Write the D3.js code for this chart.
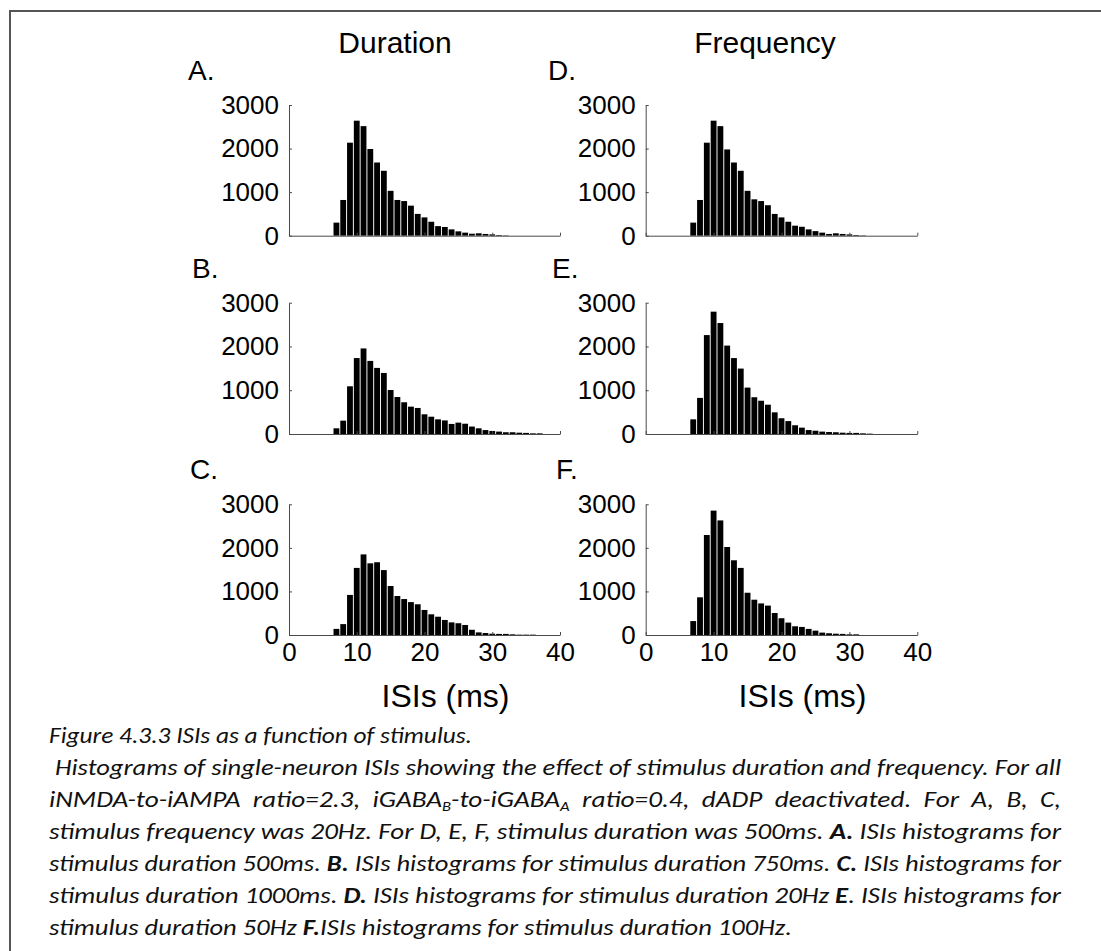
<!DOCTYPE html>
<html>
<head>
<meta charset="utf-8">
<script src="https://cdn.jsdelivr.net/npm/d3@7"></script>
<style>
  html, body { margin: 0; padding: 0; background: #fff; }
  svg { display: block; }
</style>
</head>
<body>
<svg id="fig" width="1101" height="951"></svg>
<script>
// ISI histogram bins (ms): one bar per 1 ms bin, centred on the integer value
const binStart = 7;

// Counts per bin for each panel (bins 7, 8, 9, ... ms)
const countsA = [300, 820, 2135, 2640, 2515, 1990, 1680, 1490, 1030, 820, 795, 690, 500, 420, 320, 220, 200, 145, 100, 70, 45, 55, 40, 30, 15, 8];
const countsB = [130, 305, 1090, 1735, 1955, 1670, 1510, 1395, 1005, 845, 725, 625, 595, 450, 395, 335, 310, 230, 260, 235, 170, 130, 90, 70, 55, 40, 40, 30, 25, 15, 15];
const countsC = [140, 250, 920, 1540, 1850, 1645, 1670, 1490, 1125, 895, 825, 755, 705, 575, 475, 420, 345, 290, 270, 230, 120, 60, 45, 30, 25, 25, 15, 8, 8, 8];
const countsD = [300, 820, 2135, 2640, 2515, 1980, 1680, 1490, 1030, 835, 795, 700, 500, 420, 320, 230, 205, 145, 105, 70, 40, 55, 40, 30, 15, 8];
const countsE = [335, 825, 2260, 2795, 2535, 2020, 1735, 1495, 1060, 840, 760, 670, 495, 360, 295, 200, 145, 90, 75, 55, 45, 40, 30, 25, 25, 15, 8];
const countsF = [320, 865, 2295, 2855, 2630, 2020, 1715, 1540, 970, 810, 725, 675, 505, 385, 285, 200, 185, 140, 100, 55, 40, 30, 25, 15, 15];

const panelLetters = ["A.", "B.", "C.", "D.", "E.", "F."];
const columnTitles = ["Duration", "Frequency"];
const yTicks = [0, 1000, 2000, 3000];
const xTicks = [0, 10, 20, 30, 40];
const xLabel = "ISIs (ms)";

const panelCounts = [countsA, countsB, countsC, countsD, countsE, countsF];

// Grid geometry
const colX = [[289, 560], [645.7, 917.3]];
const rowY = [[235.7, 105], [434, 302.7], [635, 504.3]];
const letterX = [[188, 192, 190], [548, 552, 556]];

const chartFont = "'Liberation Sans', Arial, Helvetica, sans-serif";
const ink = "#000";
const axisInk = "#4a4a4a";

const svg = d3.select("#fig");
svg.append("rect").attr("width", 1101).attr("height", 951).attr("fill", "#fff");

// Frame around the figure
svg.append("path")
  .attr("d", "M10,951 V11 H1101")
  .attr("fill", "none")
  .attr("stroke", "#555")
  .attr("stroke-width", 2);

// Column titles
columnTitles.forEach((t, c) => {
  svg.append("text")
    .attr("x", c === 0 ? 395 : 765)
    .attr("y", 53)
    .attr("text-anchor", "middle")
    .attr("font-family", chartFont)
    .attr("font-size", 30)
    .attr("fill", ink)
    .text(t);
});

panelCounts.forEach((counts, i) => {
  const col = Math.floor(i / 3);
  const row = i % 3;
  const [x0, x1] = colX[col];
  const [yb, yt] = rowY[row];

  const x = d3.scaleLinear().domain([0, 40]).range([x0, x1]);
  const y = d3.scaleLinear().domain([0, 3000]).range([yb, yt]);

  const g = svg.append("g");

  // Panel letter
  g.append("text")
    .attr("x", letterX[col][row])
    .attr("y", yb - 156)
    .attr("font-family", chartFont)
    .attr("font-size", 28)
    .attr("fill", ink)
    .text(panelLetters[i]);

  // Bars
  const barW = 0.86;
  g.selectAll("rect.bar")
    .data(counts)
    .join("rect")
    .attr("class", "bar")
    .attr("x", (d, k) => x(binStart + k - barW / 2))
    .attr("width", (d, k) => x(binStart + k + barW / 2) - x(binStart + k - barW / 2))
    .attr("y", d => y(d))
    .attr("height", d => y(0) - y(d))
    .attr("fill", ink);

  // Y axis
  const yAxis = d3.axisLeft(y)
    .tickValues(yTicks)
    .tickSizeInner(-3)
    .tickSizeOuter(0)
    .tickPadding(10)
    .tickFormat(d3.format("d"));
  const ya = g.append("g").attr("transform", `translate(${x0},0)`).call(yAxis);
  ya.attr("font-family", chartFont).attr("font-size", 26);
  ya.selectAll("path, line").attr("stroke", axisInk);
  ya.selectAll("text").attr("fill", ink);

  // X axis (labels only on the bottom row)
  const xAxis = d3.axisBottom(x)
    .tickValues(xTicks)
    .tickSizeInner(-3)
    .tickSizeOuter(0)
    .tickPadding(8)
    .tickFormat(row === 2 ? d3.format("d") : () => "");
  const xa = g.append("g").attr("transform", `translate(0,${yb})`).call(xAxis);
  xa.attr("font-family", chartFont).attr("font-size", 26);
  xa.selectAll("path, line").attr("stroke", axisInk);
  xa.selectAll("text").attr("fill", ink);

  if (row === 2) {
    g.append("text")
      .attr("x", (x0 + x1) / 2 + 21)
      .attr("y", 707)
      .attr("text-anchor", "middle")
      .attr("font-family", chartFont)
      .attr("font-size", 32)
      .attr("fill", ink)
      .text(xLabel);
  }
});

// Caption: each line is a list of [text, style] runs
const captionLines = [
  { x: 49, w: 423, runs: [["Figure 4.3.3 ISIs as a function of stimulus.", ""]] },
  { x: 55, w: 1006, runs: [["Histograms of single-neuron ISIs showing the effect of stimulus duration and frequency. For all", ""]] },
  { x: 49, w: 1012, runs: [["iNMDA-to-iAMPA  ratio=2.3,  iGABA", ""], ["B", "sub"], ["-to-iGABA", ""], ["A", "sub"], ["  ratio=0.4,  dADP  deactivated.  For  A,  B,  C,", ""]] },
  { x: 49, w: 1012, runs: [["stimulus frequency was 20Hz. For D, E, F, stimulus duration was 500ms. ", ""], ["A.", "b"], [" ISIs histograms for", ""]] },
  { x: 49, w: 1012, runs: [["stimulus duration 500ms. ", ""], ["B.", "b"], [" ISIs histograms for stimulus duration 750ms. ", ""], ["C.", "b"], [" ISIs histograms for", ""]] },
  { x: 49, w: 1012, runs: [["stimulus duration 1000ms. ", ""], ["D.", "b"], [" ISIs histograms for stimulus duration 20Hz ", ""], ["E", "b"], [". ISIs histograms for", ""]] },
  { x: 49, w: 743, runs: [["stimulus duration 50Hz ", ""], ["F.", "b"], ["ISIs histograms for stimulus duration 100Hz.", ""]] }
];

const cap = svg.append("g")
  .attr("font-family", "Carlito, Calibri, 'Open Sans', 'Noto Sans', sans-serif")
  .attr("font-style", "italic")
  .attr("font-size", 23)
  .attr("fill", "#111");

captionLines.forEach((ln, i) => {
  const t = cap.append("text")
    .attr("x", ln.x)
    .attr("y", 743 + i * 32)
    .attr("textLength", ln.w)
    .attr("lengthAdjust", "spacingAndGlyphs")
    .attr("xml:space", "preserve")
    .style("white-space", "pre");
  let shifted = false;
  ln.runs.forEach(([s, style]) => {
    const ts = t.append("tspan").text(s);
    if (style === "b") ts.attr("font-weight", "bold");
    if (style === "sub") {
      ts.attr("font-size", 14).attr("dy", 4);
      shifted = true;
    } else if (shifted) {
      ts.attr("dy", -4);
      shifted = false;
    }
  });
});
</script>
</body>
</html>
